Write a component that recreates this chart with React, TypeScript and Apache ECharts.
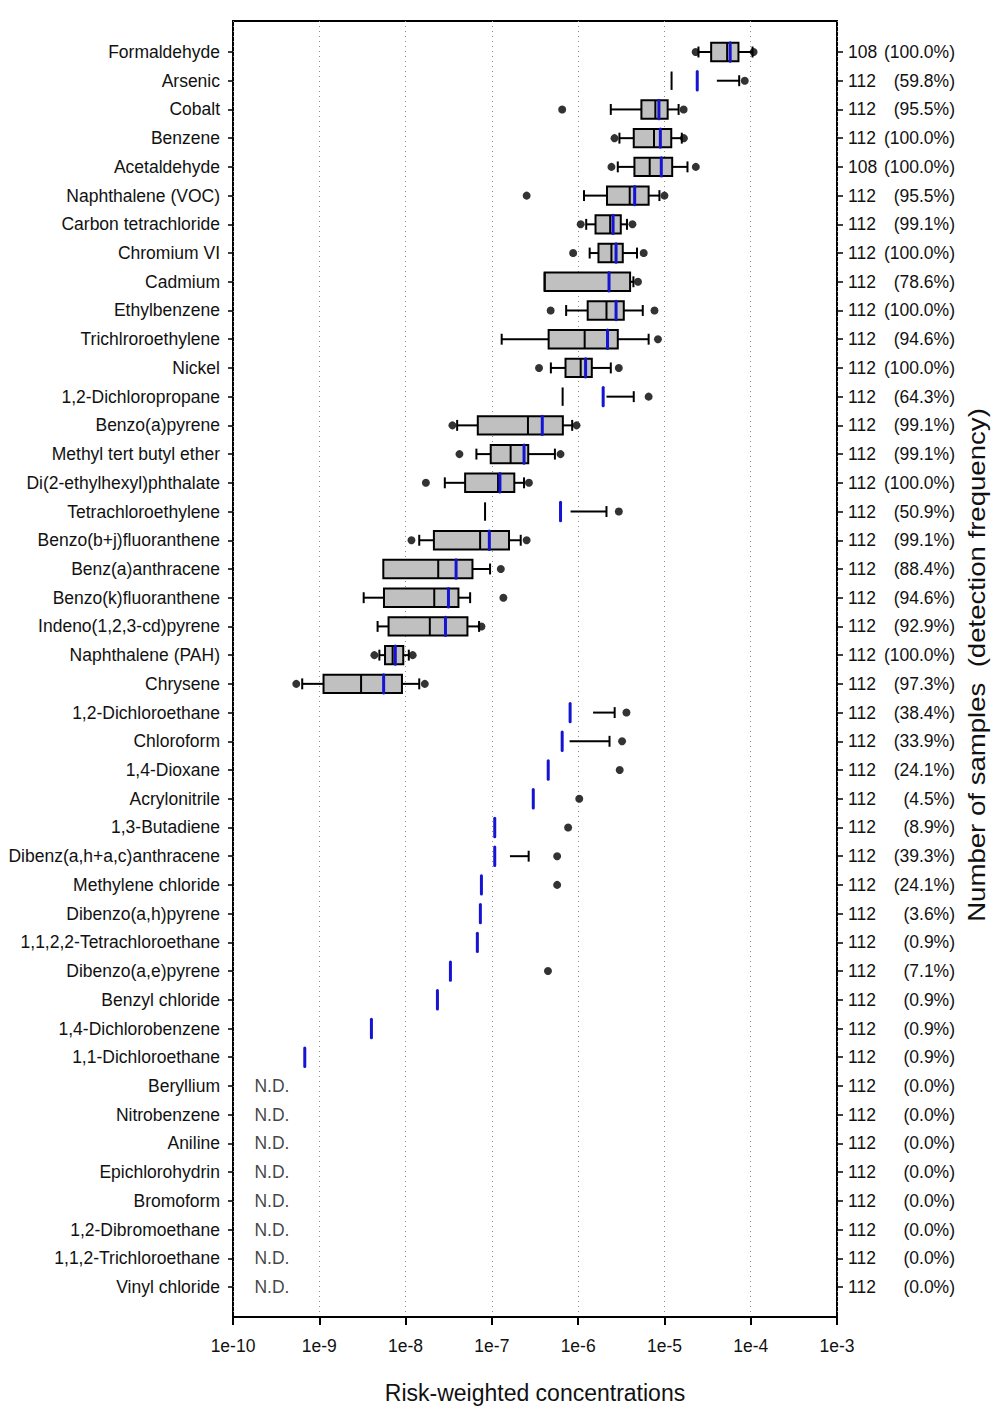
import React, { useEffect, useRef } from 'react';
import * as echarts from 'echarts';

const categories = [
  'Formaldehyde', 'Arsenic', 'Cobalt', 'Benzene', 'Acetaldehyde', 'Naphthalene (VOC)',
  'Carbon tetrachloride', 'Chromium VI', 'Cadmium', 'Ethylbenzene', 'Trichlroroethylene',
  'Nickel', '1,2-Dichloropropane', 'Benzo(a)pyrene', 'Methyl tert butyl ether',
  'Di(2-ethylhexyl)phthalate', 'Tetrachloroethylene', 'Benzo(b+j)fluoranthene',
  'Benz(a)anthracene', 'Benzo(k)fluoranthene', 'Indeno(1,2,3-cd)pyrene', 'Naphthalene (PAH)',
  'Chrysene', '1,2-Dichloroethane', 'Chloroform', '1,4-Dioxane', 'Acrylonitrile',
  '1,3-Butadiene', 'Dibenz(a,h+a,c)anthracene', 'Methylene chloride', 'Dibenzo(a,h)pyrene',
  '1,1,2,2-Tetrachloroethane', 'Dibenzo(a,e)pyrene', 'Benzyl chloride', '1,4-Dichlorobenzene',
  '1,1-Dichloroethane', 'Beryllium', 'Nitrobenzene', 'Aniline', 'Epichlorohydrin', 'Bromoform',
  '1,2-Dibromoethane', '1,1,2-Trichloroethane', 'Vinyl chloride',
];

const N21 = Array(21).fill(null);
const N15 = Array(15).fill(null);
const N11 = Array(11).fill(null);
const N8 = Array(8).fill(null);

const lowOutlier: (number | null)[] = [
  2.30e-5, null, 6.53e-7, 2.64e-6, 2.43e-6, 2.53e-7, 1.07e-6, 8.75e-7, null, 4.80e-7, null,
  3.52e-7, null, 3.49e-8, 4.21e-8, 1.72e-8, null, 1.17e-8, null, null, null, 4.35e-9, 5.41e-10,
  ...N21,
];
const whiskerLow: (number | null)[] = [
  2.48e-5, null, 2.39e-6, 3.01e-6, 2.88e-6, 1.17e-6, 1.24e-6, 1.36e-6, null, 7.26e-7, 1.30e-7,
  4.83e-7, null, 3.96e-8, 6.62e-8, 2.85e-8, null, 1.44e-8, null, 3.27e-9, 4.74e-9, 4.97e-9, 6.34e-10,
  ...N21,
];
const q1: (number | null)[] = [
  3.48e-5, null, 5.41e-6, 4.41e-6, 4.49e-6, 2.16e-6, 1.59e-6, 1.72e-6, 4.09e-7, 1.29e-6, 4.55e-7,
  7.14e-7, null, 6.87e-8, 9.70e-8, 4.90e-8, null, 2.13e-8, 5.52e-9, 5.62e-9, 6.35e-9, 5.78e-9, 1.12e-9,
  ...N21,
];
const median: (number | null)[] = [
  5.33e-5, 1.21e-5, 7.85e-6, 7.57e-6, 6.75e-6, 3.96e-6, 2.35e-6, 2.43e-6, 4.09e-7, 2.13e-6, 1.19e-6,
  1.07e-6, 6.61e-7, 2.62e-7, 1.65e-7, 1.18e-7, 8.34e-8, 7.31e-8, 2.39e-8, 2.15e-8, 1.91e-8, 7.08e-9, 3.05e-9,
  ...N21,
];
const q3: (number | null)[] = [
  7.21e-5, 4.05e-5, 1.09e-5, 1.20e-5, 1.23e-5, 6.56e-6, 3.12e-6, 3.29e-6, 4.00e-6, 3.38e-6, 2.88e-6,
  1.44e-6, 2.13e-6, 6.65e-7, 2.64e-7, 1.82e-7, 8.17e-7, 1.58e-7, 5.96e-8, 4.10e-8, 5.21e-8, 9.40e-9, 9.08e-9,
  1.49e-6, 7.96e-7, null, null, null, 1.62e-7, ...N15,
];
const whiskerHigh: (number | null)[] = [
  1.05e-4, 7.35e-5, 1.46e-5, 1.59e-5, 1.85e-5, 8.75e-6, 3.68e-6, 4.81e-6, 4.37e-6, 5.61e-6, 6.56e-6,
  2.39e-6, 4.41e-6, 8.53e-7, 5.38e-7, 2.36e-7, 2.13e-6, 2.16e-7, 9.53e-8, 5.60e-8, 7.11e-8, 1.09e-8, 1.44e-8,
  2.65e-6, 2.31e-6, null, null, null, 2.67e-7, ...N15,
];
const highOutlier: (number | null)[] = [
  1.08e-4, 8.53e-5, 1.67e-5, 1.68e-5, 2.31e-5, 1.00e-5, 4.26e-6, 5.75e-6, 4.94e-6, 7.67e-6, 8.41e-6,
  2.96e-6, 6.56e-6, 9.59e-7, 6.25e-7, 2.69e-7, 2.96e-6, 2.53e-7, 1.27e-7, 1.36e-7, 7.57e-8, 1.21e-8, 1.67e-8,
  3.63e-6, 3.23e-6, 3.03e-6, 1.03e-6, 7.66e-7, 5.71e-7, 5.71e-7, null, null, 4.47e-7, ...N11,
];
const mean: (number | null)[] = [
  5.78e-5, 2.40e-5, 8.63e-6, 8.97e-6, 9.20e-6, 4.52e-6, 2.54e-6, 2.75e-6, 2.28e-6, 2.75e-6, 2.19e-6,
  1.22e-6, 1.95e-6, 3.84e-7, 2.36e-7, 1.24e-7, 6.25e-7, 9.35e-8, 3.85e-8, 3.14e-8, 2.90e-8, 7.60e-9, 5.57e-9,
  8.07e-7, 6.53e-7, 4.50e-7, 3.02e-7, 1.08e-7, 1.08e-7, 7.57e-8, 7.36e-8, 6.79e-8, 3.31e-8, 2.34e-8,
  4.02e-9, 6.79e-10, ...N8,
];

const sampleCounts = [108, 112, 112, 112, 108, ...Array(39).fill(112)];
const detectionPct = [
  100.0, 59.8, 95.5, 100.0, 100.0, 95.5, 99.1, 100.0, 78.6, 100.0, 94.6, 100.0, 64.3, 99.1, 99.1,
  100.0, 50.9, 99.1, 88.4, 94.6, 92.9, 100.0, 97.3, 38.4, 33.9, 24.1, 4.5, 8.9, 39.3, 24.1, 3.6,
  0.9, 7.1, 0.9, 0.9, 0.9, 0.0, 0.0, 0.0, 0.0, 0.0, 0.0, 0.0, 0.0,
];
const ndLabel = 'N.D.';
const ndPosition = 1.75e-10;

const xTickLabels = ['1e-10', '1e-9', '1e-8', '1e-7', '1e-6', '1e-5', '1e-4', '1e-3'];
const xTitle = 'Risk-weighted concentrations';
const rightTitle = 'Number of samples  (detection frequency)';

const FONT = '"Liberation Sans", Arial, Helvetica, sans-serif';

export default function App() {
  const ref = useRef<HTMLDivElement>(null);

  useEffect(() => {
    const chart = echarts.init(ref.current as HTMLDivElement, null, { renderer: 'svg' });

    const GL = 233, GW = 604, GT = 21, GH = 1296;
    const rowTop = 52, rowBottom = 1287;
    const n = categories.length;
    const step = (rowBottom - rowTop) / (n - 1);
    const yMin = -(rowTop - GT) / step;
    const yMax = n - 1 + (GT + GH - rowBottom) / step;

    const boxData: number[][] = [];
    mean.forEach((m, i) => { if (m != null) boxData.push([m, i]); });
    const dotData: number[][] = [];
    categories.forEach((_, i) => {
      if (lowOutlier[i] != null) dotData.push([lowOutlier[i] as number, i]);
      if (highOutlier[i] != null) dotData.push([highOutlier[i] as number, i]);
    });
    const ndData: number[][] = [];
    categories.forEach((_, i) => { if (mean[i] == null) ndData.push([ndPosition, i]); });

    const renderBox = (params: any, api: any) => {
      const row = api.value(1);
      const y = api.coord([1e-6, row])[1];
      const band = api.coord([1e-6, row + 1])[1] - y;
      const half = band * 0.32;
      const capHalf = band * 0.19;
      const X = (v: number) => api.coord([v, row])[0];
      const st = { stroke: '#000', lineWidth: 2 };
      const ch: any[] = [];
      const wl = whiskerLow[row], a = q1[row], md = median[row], b = q3[row], wh = whiskerHigh[row], mn = mean[row];
      if (wl != null && a != null) {
        ch.push({ type: 'line', shape: { x1: X(wl), y1: y, x2: X(a), y2: y }, style: st });
        ch.push({ type: 'line', shape: { x1: X(wl), y1: y - capHalf, x2: X(wl), y2: y + capHalf }, style: st });
      }
      if (b != null && wh != null) {
        ch.push({ type: 'line', shape: { x1: X(b), y1: y, x2: X(wh), y2: y }, style: st });
        ch.push({ type: 'line', shape: { x1: X(wh), y1: y - capHalf, x2: X(wh), y2: y + capHalf }, style: st });
      }
      if (a != null && b != null) {
        ch.push({
          type: 'rect',
          shape: { x: X(a), y: y - half, width: X(b) - X(a), height: half * 2 },
          style: { fill: '#c0c0c0', stroke: '#000', lineWidth: 2 },
        });
      }
      if (md != null) {
        ch.push({ type: 'line', shape: { x1: X(md), y1: y - half, x2: X(md), y2: y + half }, style: st });
      }
      if (mn != null) {
        ch.push({
          type: 'line',
          shape: { x1: X(mn), y1: y - half, x2: X(mn), y2: y + half },
          style: { stroke: '#1414d2', lineWidth: 3, lineCap: 'round' },
          z2: 10,
        });
      }
      return { type: 'group', children: ch };
    };

    const option: any = {
      animation: false,
      backgroundColor: '#fff',
      textStyle: { fontFamily: FONT },
      grid: [
        { left: GL, top: GT, width: GW, height: GH, show: true, borderColor: '#000', borderWidth: 2, backgroundColor: 'transparent' },
        { left: GL, top: rowTop - step / 2, width: GW, height: step * n },
      ],
      xAxis: [
        {
          gridIndex: 0,
          type: 'log',
          logBase: 10,
          min: 1e-10,
          max: 1e-3,
          position: 'bottom',
          axisLine: { show: true, onZero: false, lineStyle: { color: '#000', width: 2 } },
          axisTick: { show: true, inside: false, length: 8, lineStyle: { color: '#000', width: 2 } },
          minorTick: { show: false },
          axisLabel: {
            fontSize: 17.5,
            color: '#111',
            margin: 20,
            fontFamily: FONT,
            formatter: (v: number) => xTickLabels[Math.round(Math.log10(v)) + 10] ?? '',
          },
          splitLine: { show: true, lineStyle: { color: '#8c8c8c', type: [1, 4], width: 1 } },
          name: xTitle,
          nameLocation: 'middle',
          nameGap: 64,
          nameTextStyle: { fontSize: 23, color: '#111', fontFamily: FONT },
        },
        { gridIndex: 1, type: 'value', show: false, axisLine: { onZero: false } },
      ],
      yAxis: [
        { gridIndex: 0, type: 'value', min: yMin, max: yMax, inverse: true, show: false, axisLine: { onZero: false } },
        {
          gridIndex: 1,
          type: 'category',
          data: categories,
          inverse: true,
          position: 'left',
          axisLine: { show: false, onZero: false },
          axisTick: { show: true, alignWithLabel: true, length: 5, lineStyle: { color: '#000', width: 1.5 } },
          axisLabel: { fontSize: 17.5, color: '#111', margin: 13, fontFamily: FONT, interval: 0 },
        },
        {
          gridIndex: 1,
          type: 'category',
          data: categories,
          inverse: true,
          position: 'right',
          axisLine: { show: false, onZero: false },
          axisTick: { show: true, alignWithLabel: true, length: 6, lineStyle: { color: '#000', width: 1.5 } },
          axisLabel: {
            interval: 0,
            margin: 11,
            formatter: (_v: string, i: number) =>
              `{n|${sampleCounts[i]}}{p|(${detectionPct[i].toFixed(1)}%)}`,
            rich: {
              n: { width: 35, align: 'left', fontSize: 17.5, color: '#111', fontFamily: FONT },
              p: { width: 72, align: 'right', fontSize: 17.5, color: '#111', fontFamily: FONT },
            },
          },
        },
      ],
      series: [
        {
          type: 'custom',
          xAxisIndex: 0,
          yAxisIndex: 0,
          renderItem: renderBox,
          data: boxData,
          z: 2,
        },
        {
          type: 'scatter',
          xAxisIndex: 0,
          yAxisIndex: 0,
          data: dotData,
          symbol: 'circle',
          symbolSize: 8,
          itemStyle: { color: '#000' },
          z: 3,
        },
        {
          type: 'scatter',
          xAxisIndex: 0,
          yAxisIndex: 0,
          data: ndData,
          symbolSize: 1,
          itemStyle: { color: 'rgba(0,0,0,0)' },
          label: {
            show: true,
            position: 'right',
            distance: 0,
            formatter: ndLabel,
            fontSize: 17.5,
            color: '#111',
            fontFamily: FONT,
          },
          z: 3,
        },
      ],
      graphic: [
        {
          type: 'text',
          x: 977,
          y: 665,
          rotation: Math.PI / 2,
          scaleX: 1.2,
          style: {
            text: rightTitle,
            font: `23px ${FONT}`,
            fill: '#111',
            align: 'center',
            verticalAlign: 'middle',
            textAlign: 'center',
            textVerticalAlign: 'middle',
          },
        },
      ],
    };

    chart.setOption(option);
    return () => chart.dispose();
  }, []);

  return (
    <div
      ref={ref}
      style={{ position: 'absolute', left: 0, top: 0, width: 1006, height: 1422 }}
    />
  );
}
